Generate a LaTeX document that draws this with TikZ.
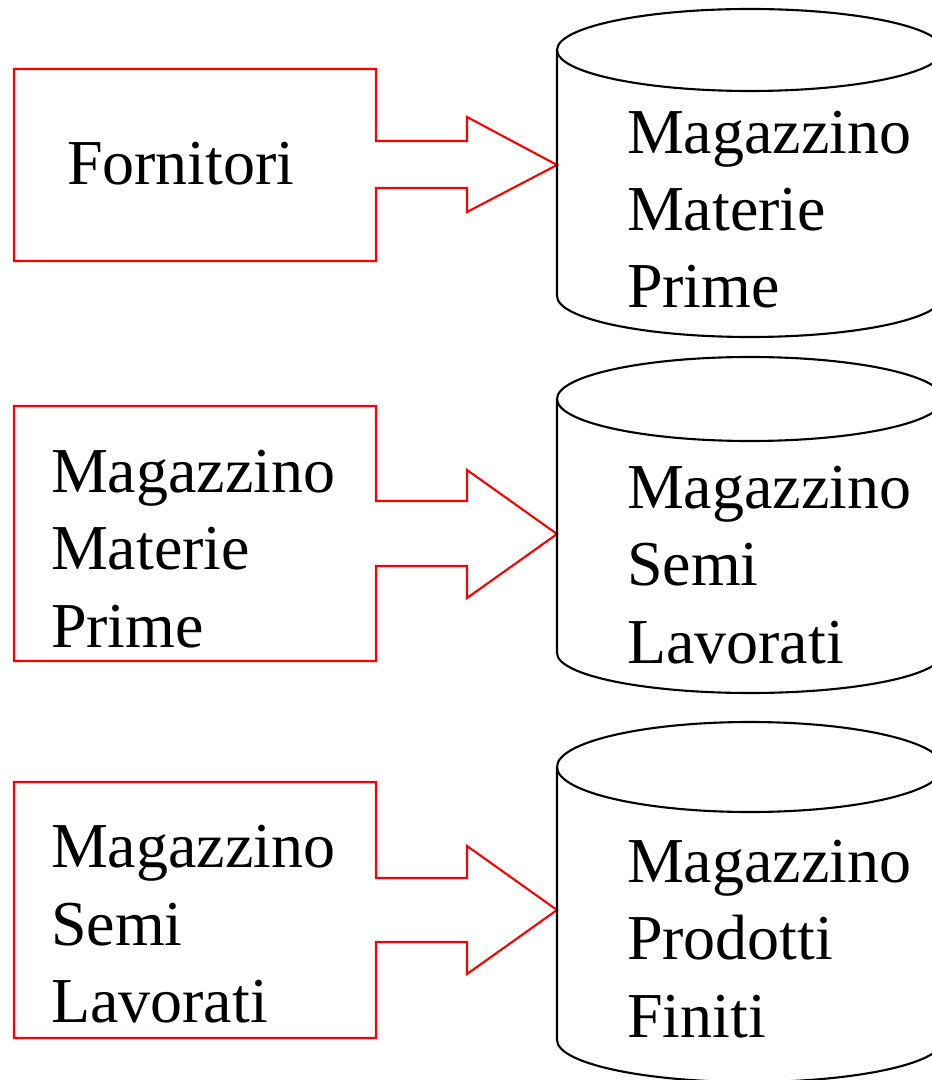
\documentclass[tikz,border=0pt]{standalone}
\usepackage{fontspec}
\setmainfont{Liberation Serif}
\begin{document}
\begin{tikzpicture}[x=0.01cm,y=-0.01cm,line width=0.6pt,
    txt/.style={anchor=base west,inner sep=0pt,align=left,
      font=\fontsize{18.2pt}{21.9pt}\selectfont}]
    \useasboundingbox (0,0) rectangle (931,1080);
    % left boxes with their block arrows
    \draw [red] (376,141) -- (467,141) -- (467,117) -- (557,165) -- (467,212)
    -- (467,188) -- (376,188) -- (376,261) -- (14,261) -- (14,69) -- (376,69) -- cycle;
    \draw [red] (376,501) -- (467,501) -- (467,470) -- (557,534) -- (467,598)
    -- (467,566) -- (376,566) -- (376,661) -- (14,661) -- (14,406) -- (376,406) -- cycle;
    \draw [red] (376,878) -- (467,878) -- (467,846) -- (557,910) -- (467,974)
    -- (467,942) -- (376,942) -- (376,1038) -- (14,1038) -- (14,782) -- (376,782) -- cycle;
    % base anchor = last line
    \node [txt] (fornitori) at (66,185) {Fornitori};
    \node [txt] (srcPrime) at (50,647) {Magazzino\\Materie\\Prime};
    \node [txt] (srcSemi) at (50,1022) {Magazzino\\Semi\\Lavorati};
    % cylinders
    \draw (750,50) ellipse (193 and 41);
    \draw (557,50) -- (557,296) arc (180:0:193 and 41) -- (943,50);
    \draw (750,399) ellipse (193 and 42);
    \draw (557,399) -- (557,653) arc (180:0:193 and 40) -- (943,399);
    \draw (750,767) ellipse (193 and 45);
    \draw (557,767) -- (557,1040) arc (180:0:193 and 42) -- (943,767);
    \node [txt] (magPrime) at (626,308) {Magazzino\\Materie\\Prime};
    \node [txt] (magSemi) at (626,663) {Magazzino\\Semi\\Lavorati};
    \node [txt] (magFiniti) at (626,1037) {Magazzino\\Prodotti\\Finiti};
\end{tikzpicture}
\end{document}
